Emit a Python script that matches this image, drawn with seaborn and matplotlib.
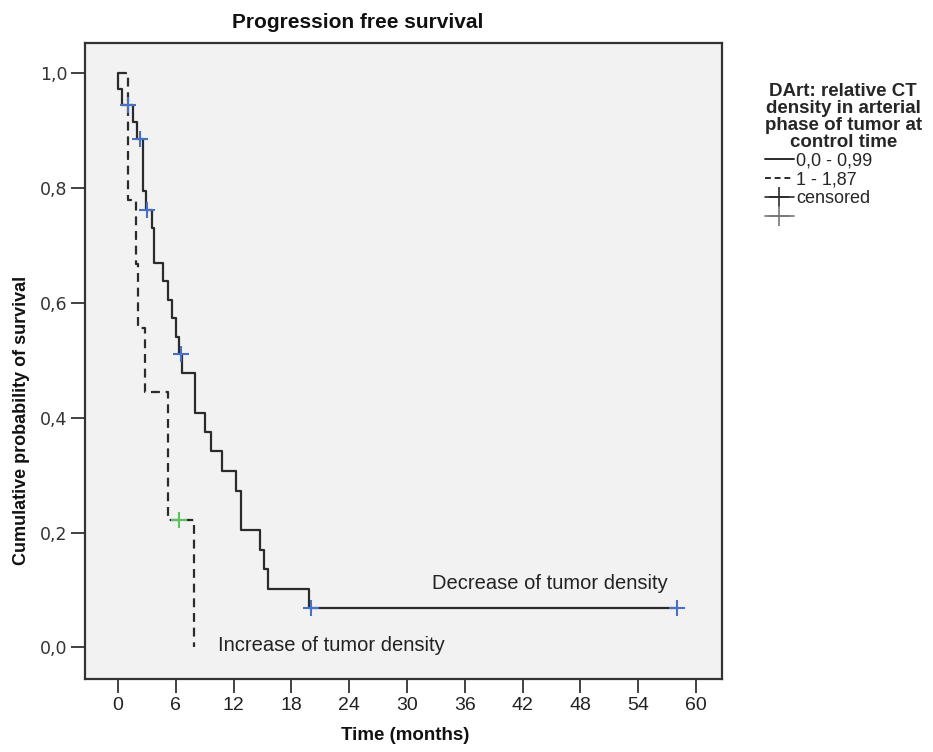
import matplotlib
matplotlib.use("Agg")
import matplotlib.pyplot as plt
import seaborn as sns
from matplotlib.lines import Line2D

# Kaplan-Meier steps
# group 0,0 - 0,99 (decrease of tumor density)
low_t = [0, 0, 0.4, 1.6, 1.95, 2.65, 2.9, 3.58, 3.72, 4.7, 5.2, 5.6, 6.0, 6.3, 6.6,
         8.0, 9.0, 9.7, 10.8, 12.3, 12.8, 14.7, 15.2, 15.6, 19.8, 58.0]
low_s = [1.0, 0.972, 0.944, 0.915, 0.885, 0.794, 0.762, 0.730, 0.669, 0.637, 0.605,
         0.573, 0.541, 0.510, 0.477, 0.408, 0.375, 0.341, 0.307, 0.272, 0.205, 0.170,
         0.137, 0.102, 0.068, 0.068]
low_cens_t = [1.07, 2.3, 3.0, 6.5, 20.0, 58.0]
low_cens_s = [0.944, 0.885, 0.762, 0.510, 0.068, 0.068]

# group 1 - 1,87 (increase of tumor density)
high_t = [0, 1.0, 1.85, 2.1, 2.85, 5.2, 7.9]
high_s = [1.0, 0.778, 0.667, 0.556, 0.444, 0.222, 0.0]
high_cens_t = [6.33]
high_cens_s = [0.222]

xticks = list(range(0, 61, 6))
yticks = [0.0, 0.2, 0.4, 0.6, 0.8, 1.0]
ytick_labels = ["0,0", "0,2", "0,4", "0,6", "0,8", "1,0"]

sns.set_style("white")
plt.rcParams['font.family'] = ['Liberation Sans', 'DejaVu Sans']

fig = plt.figure(figsize=(9.33, 7.52), dpi=100)
ax = fig.add_axes([0.091, 0.097, 0.683, 0.846])
ax.set_facecolor("#f2f2f2")

line_col = "#2b2b2b"
sns.lineplot(x=low_t, y=low_s, ax=ax, sort=False, estimator=None,
             drawstyle="steps-post", color=line_col, linewidth=1.6)
sns.lineplot(x=high_t, y=high_s, ax=ax, sort=False, estimator=None,
             drawstyle="steps-post", color=line_col, linewidth=1.6,
             linestyle=(0, (4, 2.6)))
sns.scatterplot(x=low_cens_t, y=low_cens_s, ax=ax, marker="+", s=120,
                color="#4a6fc7", linewidth=1.5, zorder=5)
sns.scatterplot(x=high_cens_t, y=high_cens_s, ax=ax, marker="+", s=120,
                color="#5cc45c", linewidth=1.5, zorder=5)

ax.set_xlim(-3.43, 62.7)
ax.set_ylim(-0.055, 1.052)
ax.set_xticks(xticks)
ax.set_xticklabels([str(t) for t in xticks], fontsize=14, color="#222222")
ax.set_yticks(yticks)
ax.set_yticklabels(ytick_labels, fontsize=12.5, color="#333333",
                   family=["DejaVu Sans"])
ax.tick_params(axis="both", direction="out", length=10, width=1.3,
               color="#333333", bottom=True, left=True)
ax.tick_params(axis="x", pad=3)
ax.tick_params(axis="y", pad=2.5)
for sp in ax.spines.values():
    sp.set_color("#333333")
    sp.set_linewidth(1.6)
ax.set_xlabel("")
ax.set_ylabel("")

ax.text(32.6, 0.112, "Decrease of tumor density", fontsize=14.5,
        color="#222222", va="center", ha="left")
ax.text(10.4, 0.003, "Increase of tumor density", fontsize=14.5,
        color="#222222", va="center", ha="left")

fig.text(358 / 933, 1 - 22 / 752, "Progression free survival", fontsize=15,
         fontweight="bold", ha="center", va="center", color="#111111")
fig.text(405 / 933, 1 - 736 / 752, "Time (months)", fontsize=13.5,
         fontweight="bold", ha="center", va="center", color="#111111")
fig.text(22 / 933, 1 - 420 / 752, "Cumulative probability of survival",
         fontsize=13, fontweight="bold", rotation=90, ha="center",
         va="center", color="#111111")

handles = [
    Line2D([], [], color=line_col, linewidth=1.4),
    Line2D([], [], color=line_col, linewidth=1.4, linestyle=(0, (3, 2))),
    Line2D([], [], color=line_col, linewidth=1.2, marker="+", markersize=15,
           markeredgewidth=1.2),
    Line2D([], [], color="#777777", linewidth=1.2, marker="+", markersize=15,
           markeredgewidth=1.2),
]
labels = ["0,0 - 0,99", "1 - 1,87", "censored", ""]
leg = fig.legend(handles, labels, loc="upper left",
                 bbox_to_anchor=(752 / 933, 1 - 70 / 752), frameon=False,
                 fontsize=13, handlelength=1.6, handletextpad=0.15,
                 labelspacing=0.1, borderpad=0.2, alignment="left",
                 title="DArt: relative CT\ndensity in arterial\nphase of tumor at\ncontrol time",
                 title_fontproperties={"weight": "bold", "size": 13.5})
leg.get_title().set_multialignment("center")
leg.get_title().set_linespacing(1.0)

fig.savefig("out.png", dpi=100, facecolor="white")
